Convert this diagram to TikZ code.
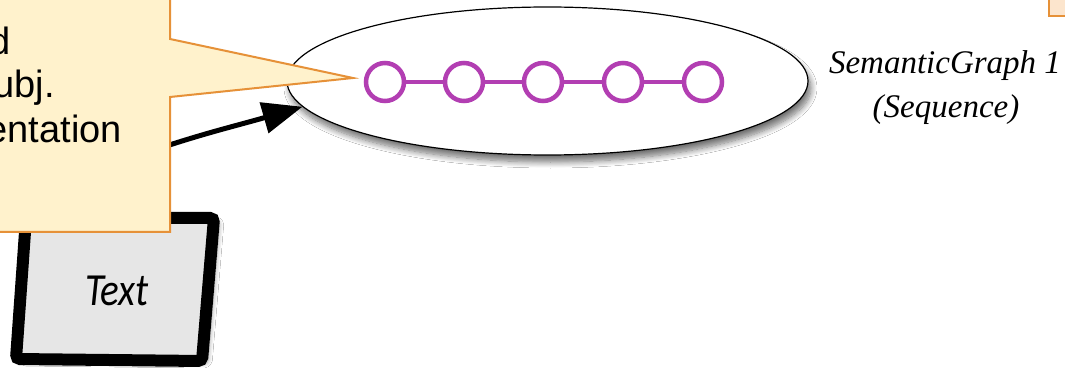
\documentclass[tikz,border=0pt]{standalone}
\usepackage{fontspec}
\setmainfont{Liberation Sans}
\newfontfamily\calfont{Carlito}
\newfontfamily\serifit{Liberation Serif}
\usetikzlibrary{shapes.geometric,arrows.meta,shadows,shadows.blur}
\definecolor{calloutfill}{HTML}{FFF2CC}
\definecolor{calloutpeach}{HTML}{FCE5CD}
\definecolor{calloutdraw}{HTML}{E69138}
\definecolor{graphnode}{RGB}{178,62,178}
\definecolor{boxgray}{HTML}{E6E6E6}
\begin{document}
\begin{tikzpicture}[x=1pt,y=1pt,
  callout/.style={fill=calloutfill,draw=calloutdraw,line width=2pt,line join=miter},
  callouttext/.style={anchor=base east,inner sep=0pt,font=\fontsize{38}{44}\selectfont},
  gnode/.style={circle,draw=graphnode,line width=4.5pt,minimum size=38pt,inner sep=0pt,fill=white},
  gedge/.style={draw=graphnode,line width=4pt},
  graphbubble/.style={ellipse,draw=black,line width=1.2pt,fill=white,inner sep=0pt,
    minimum width=521pt,minimum height=148pt,
    blur shadow={shadow xshift=3pt,shadow yshift=-7pt,shadow blur radius=6pt,shadow blur steps=10,shadow opacity=55}},
  textbox/.style={draw=black,line width=12pt,rounded corners=4pt,fill=boxgray,
    blur shadow={shadow xshift=6pt,shadow yshift=-3pt,shadow blur radius=4pt,shadow blur steps=8,shadow opacity=35}},
  sglabel/.style={anchor=base,inner sep=0pt,font=\serifit\itshape\fontsize{33}{40}\selectfont},
  bigarrow/.style={draw=black,line width=5pt,-{Triangle[length=40pt,width=31pt]}}
]
\useasboundingbox (0,0) rectangle (1065,-371);
\fill[white] (0,0) rectangle (1065,-371);

% semantic graph bubble
\node[graphbubble] (ell) at (547.5,-81) {};
\foreach \i/\x in {1/385,2/464,3/543,4/623,5/703}
  \node[gnode] (n\i) at (\x,-82) {};
\draw[gedge] (n1) -- (n2);
\draw[gedge] (n2) -- (n3);
\draw[gedge] (n3) -- (n4);
\draw[gedge] (n4) -- (n5);

% labels
\node[sglabel] (sg) at (945,-74) {SemanticGraph 1};
\node[sglabel] (seq) at (946,-118) {(Sequence)};

% text box
\path[textbox] (26,-218) -- (214,-218) -- (202,-361) -- (16,-359) -- cycle;
\node[inner sep=0pt,font=\calfont\itshape\fontsize{46}{50}\selectfont] (txt) at (117,-291) {\scalebox{0.85}[1]{Text}};

% arrow from text box to graph
\coordinate (src) at (120,-162);
\draw[bigarrow] (src) to[out=20,in=196] (ell.186);

% callout
\path[callout] (-10,5) -- (170,5) -- (170,-39) -- (353,-78) -- (170,-97) -- (170,-232) -- (-10,-232) -- cycle;
\node[callouttext] (c1) at (11,-55) {d};
\node[callouttext] (c2) at (55,-98) {ubj.};
\node[callouttext] (c3) at (122,-143) {entation};

% partial callout at top right
\path[callout,fill=calloutpeach] (1049,5) rectangle (1075,-16);
\end{tikzpicture}
\end{document}
